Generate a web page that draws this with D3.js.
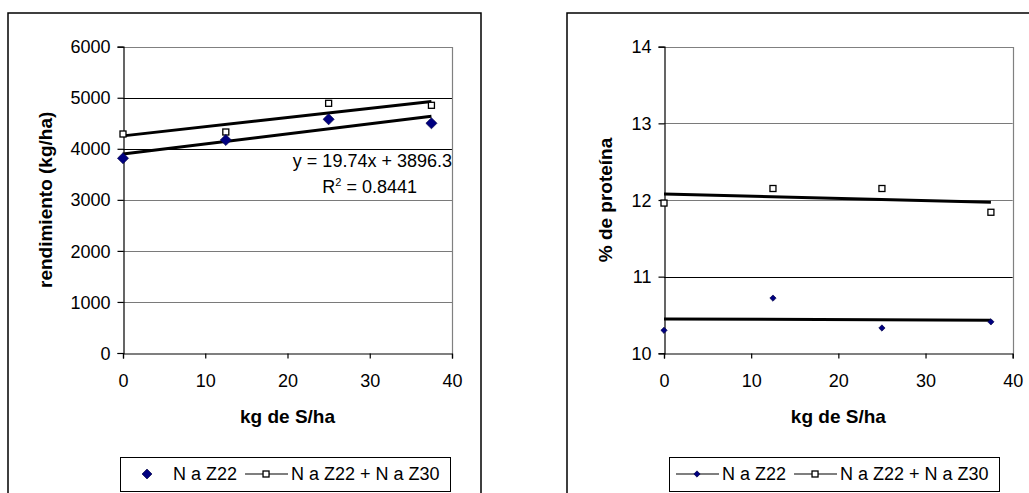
<!DOCTYPE html>
<html>
<head>
<meta charset="utf-8">
<script src="https://cdn.jsdelivr.net/npm/d3@7"></script>
<style>
  body { margin: 0; background: #fff; }
  svg { display: block; font-family: "Liberation Sans", Arial, sans-serif; }
</style>
</head>
<body>
<div id="root"></div>
<script>
// doses of S (kg/ha)
const doses = [0, 12.5, 25, 37.5];
const xTicks = [0, 10, 20, 30, 40];

// yield (kg/ha)
const yieldZ22 = [3814, 4172, 4578, 4500];
const yieldZ22Z30 = [4290, 4329, 4891, 4852];
const yieldTicks = [0, 1000, 2000, 3000, 4000, 5000, 6000];

// protein (%)
const protZ22 = [10.30, 10.72, 10.33, 10.41];
const protZ22Z30 = [11.96, 12.15, 12.15, 11.84];
const protTicks = [10, 11, 12, 13, 14];

const seriesNames = ["N a Z22", "N a Z22 + N a Z30"];
const equationText = ["y = 19.74x + 3896.3", "R", "2", " = 0.8441"];

const W = 1029, H = 493;
const FONT = 18, TITLE_FONT = 19;

const svg = d3.select("#root").append("svg")
  .attr("width", W)
  .attr("height", H);

function fitLine(xs, ys) {
  const mx = d3.mean(xs), my = d3.mean(ys);
  let sxy = 0, sxx = 0;
  xs.forEach((x, i) => { sxy += (x - mx) * (ys[i] - my); sxx += (x - mx) * (x - mx); });
  const slope = sxy / sxx;
  return x => my + slope * (x - mx);
}

function diamond(sel, size, fill) {
  return sel.append("path")
    .attr("d", d3.symbol(d3.symbolSquare, size)())
    .attr("fill", fill)
    .attr("stroke", "#000040")
    .attr("stroke-width", 0.6);
}

function square(sel) {
  return sel.append("rect")
    .attr("x", -3).attr("y", -3)
    .attr("width", 6).attr("height", 6)
    .attr("fill", "#fff")
    .attr("stroke", "#000")
    .attr("stroke-width", 1.3);
}

function drawPanel(p) {
  const g = svg.append("g");

  // chart frame
  g.append("path")
    .attr("d", `M${p.frame.x0},${H + 5}V${p.frame.y0}H${p.frame.x1}V${H + 5}`)
    .attr("fill", "none")
    .attr("stroke", "#000")
    .attr("stroke-width", 1.5);

  const x = d3.scaleLinear().domain([0, 40]).range([p.left, p.right]);
  const y = d3.scaleLinear().domain(p.yDomain).range([p.bottom, p.top]);

  // gridlines
  g.append("g").selectAll("line")
    .data(p.yTicks.slice(1, -1))
    .join("line")
    .attr("x1", p.left).attr("x2", p.right)
    .attr("y1", d => Math.round(y(d)) + 0.5)
    .attr("y2", d => Math.round(y(d)) + 0.5)
    .attr("stroke", d => p.darkGrid.includes(d) ? "#000" : "#7a7a7a")
    .attr("stroke-width", 1);

  // plot area border (top/right)
  g.append("path")
    .attr("d", `M${p.left},${Math.round(p.top) + 0.5}H${Math.round(p.right) + 0.5}V${p.bottom}`)
    .attr("fill", "none")
    .attr("stroke", "#808080")
    .attr("stroke-width", 1.2);

  // axes
  const xAxis = d3.axisBottom(x).tickValues(xTicks).tickSize(5).tickPadding(16).tickFormat(d3.format("d"));
  const yAxis = d3.axisLeft(y).tickValues(p.yTicks).tickSize(6).tickPadding(7).tickFormat(d3.format("d"));

  const gx = g.append("g")
    .attr("transform", `translate(0,${Math.round(p.bottom) + 0.5})`)
    .call(xAxis);
  const gy = g.append("g")
    .attr("transform", `translate(${Math.round(p.left) + 0.5},0)`)
    .call(yAxis);

  [gx, gy].forEach(a => {
    a.selectAll("path, line").attr("stroke", "#000").attr("stroke-width", 1.2);
    a.selectAll("text").attr("font-size", FONT).attr("fill", "#000")
      .attr("font-family", "Liberation Sans, Arial, sans-serif");
  });
  gy.selectAll("text").attr("dy", "0.34em");

  // axis titles
  g.append("text")
    .attr("x", (p.left + p.right) / 2)
    .attr("y", 423)
    .attr("text-anchor", "middle")
    .attr("font-size", TITLE_FONT)
    .attr("font-weight", "bold")
    .text("kg de S/ha");

  g.append("text")
    .attr("transform", `translate(${p.yTitleX},${(p.top + p.bottom) / 2}) rotate(-90)`)
    .attr("text-anchor", "middle")
    .attr("font-size", TITLE_FONT)
    .attr("font-weight", "bold")
    .text(p.yTitle);

  // trend lines
  const trendLine = d3.line().x(d => x(d[0])).y(d => y(d[1]));
  [p.s1, p.s2].forEach(vals => {
    const f = fitLine(doses, vals);
    g.append("path")
      .datum([[0, f(0)], [37.5, f(37.5)]])
      .attr("d", trendLine)
      .attr("fill", "none")
      .attr("stroke", "#000")
      .attr("stroke-width", 3);
  });

  // markers
  g.append("g").selectAll("g")
    .data(doses.map((d, i) => [d, p.s2[i]]))
    .join("g")
    .attr("transform", d => `translate(${x(d[0])},${y(d[1])})`)
    .each(function() { square(d3.select(this)); });

  g.append("g").selectAll("g")
    .data(doses.map((d, i) => [d, p.s1[i]]))
    .join("g")
    .attr("transform", d => `translate(${x(d[0])},${y(d[1])}) rotate(45)`)
    .each(function() { diamond(d3.select(this), p.diamondSize, "#000080"); });

  // legend
  const lg = g.append("g");
  lg.append("rect")
    .attr("x", p.legend.x0 + 0.5).attr("y", 457.5)
    .attr("width", p.legend.x1 - p.legend.x0).attr("height", 34)
    .attr("fill", "#fff")
    .attr("stroke", "#000")
    .attr("stroke-width", 1);

  const ly = 474;
  let cx = p.legend.x0 + 7;
  seriesNames.forEach((name, i) => {
    const withLine = i === 1 || p.legendLine1;
    if (withLine) {
      lg.append("line")
        .attr("x1", cx).attr("x2", cx + 43)
        .attr("y1", ly).attr("y2", ly)
        .attr("stroke", "#000").attr("stroke-width", 1.2);
    }
    const m = lg.append("g").attr("transform", i === 0
      ? `translate(${cx + (withLine ? 21 : 20)},${ly}) rotate(45)`
      : `translate(${cx + 21},${ly})`);
    if (i === 0) diamond(m, p.legendDiamond, "#000080");
    else square(m);
    const tx = cx + (withLine || i === 1 ? 46 : 46);
    const t = lg.append("text")
      .attr("x", tx).attr("y", ly + 6)
      .attr("font-size", FONT)
      .text(name);
    cx = tx + t.node().getComputedTextLength() + 8;
  });

  return { x, y, g };
}

// left panel: yield
const left = drawPanel({
  frame: { x0: 8, y0: 13, x1: 481 },
  left: 123, right: 452, top: 46.7, bottom: 353,
  yDomain: [0, 6000], yTicks: yieldTicks, darkGrid: [4000, 5000],
  yTitle: "rendimiento (kg/ha)", yTitleX: 52,
  s1: yieldZ22, s2: yieldZ22Z30,
  diamondSize: 62, legendDiamond: 50, legendLine1: false,
  legend: { x0: 120, x1: 450 }
});

// regression equation label
const eq = left.g.append("text")
  .attr("x", 452).attr("y", 167)
  .attr("text-anchor", "end")
  .attr("font-size", FONT)
  .text(equationText[0]);

const r2 = left.g.append("text")
  .attr("x", 417).attr("y", 193)
  .attr("text-anchor", "end")
  .attr("font-size", FONT);
r2.append("tspan").text(equationText[1]);
r2.append("tspan").attr("font-size", 11).attr("dy", -7).text(equationText[2]);
r2.append("tspan").attr("dy", 7).text(equationText[3]);

// right panel: protein
drawPanel({
  frame: { x0: 567, y0: 13, x1: 1040 },
  left: 664, right: 1012.7, top: 46.7, bottom: 353.3,
  yDomain: [10, 14], yTicks: protTicks, darkGrid: [11],
  yTitle: "% de proteína", yTitleX: 612,
  s1: protZ22, s2: protZ22Z30,
  diamondSize: 20, legendDiamond: 20, legendLine1: true,
  legend: { x0: 669, x1: 999 }
});
</script>
</body>
</html>
